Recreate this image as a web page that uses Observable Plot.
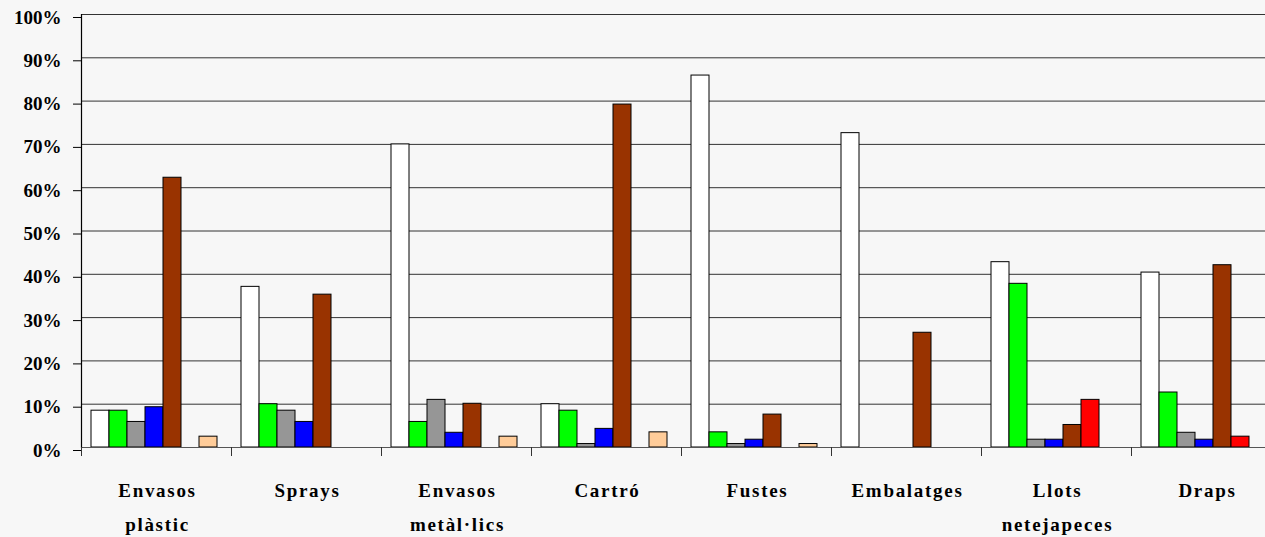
<!DOCTYPE html>
<html>
<head>
<meta charset="utf-8">
<script src="https://cdn.jsdelivr.net/npm/d3@7"></script>
<script src="https://cdn.jsdelivr.net/npm/@observablehq/plot@0.6"></script>
<style>
  html, body { margin: 0; padding: 0; background: #f7f7f7; overflow: hidden; }
  #chart svg { max-width: none !important; height: 537px !important; }
  #chart svg text { font-weight: bold; }
  #chart svg g[aria-label="text"] text { letter-spacing: 1.7px; }
</style>
</head>
<body>
<div id="chart"></div>
<script>
const categories = ["Envasos plàstic", "Sprays", "Envasos metàl·lics", "Cartró", "Fustes", "Embalatges", "Llots netejapeces", "Draps"];
const categoryLabels = ["Envasos\nplàstic", "Sprays", "Envasos\nmetàl·lics", "Cartró", "Fustes", "Embalatges", "Llots\nnetejapeces", "Draps"];
const seriesNames = ["Sèrie 1", "Sèrie 2", "Sèrie 3", "Sèrie 4", "Sèrie 5", "Sèrie 6", "Sèrie 7"];
const seriesColors = ["#ffffff", "#00ff00", "#969696", "#0000ff", "#993300", "#ff0000", "#ffcc99"];
const serie1 = [8.5, 37.1, 70.0, 10.0, 85.9, 72.6, 42.8, 40.4];
const serie2 = [8.5, 10.0, 5.9, 8.5, 3.5, 0, 37.8, 12.7];
const serie3 = [5.9, 8.5, 11.0, 0.8, 0.8, 0, 1.8, 3.4];
const serie4 = [9.3, 5.9, 3.4, 4.3, 1.8, 0, 1.8, 1.8];
const serie5 = [62.3, 35.3, 10.1, 79.2, 7.6, 26.5, 5.2, 42.1];
const serie6 = [0, 0, 0, 0, 0, 0, 11.0, 2.5];
const serie7 = [2.5, 0, 2.5, 3.5, 0.8, 0, 0, 0];
const yTicks = [0, 10, 20, 30, 40, 50, 60, 70, 80, 90, 100];

const allSeries = [serie1, serie2, serie3, serie4, serie5, serie6, serie7];
const rows = [];
categories.forEach((c, i) => {
  allSeries.forEach((s, j) => {
    rows.push({category: c, series: seriesNames[j], value: s[i]});
  });
});
const labelOf = new Map(categories.map((c, i) => [c, categoryLabels[i]]));

const chart = Plot.plot({
  width: 1290,
  height: 537,
  marginLeft: 81,
  marginRight: 9,
  marginTop: 14,
  marginBottom: 90,
  style: {background: "#f7f7f7", fontFamily: "'Liberation Serif', 'Times New Roman', serif", fontSize: "19px", color: "#000"},
  fx: {domain: categories, padding: 0, axis: null},
  x: {domain: seriesNames, paddingInner: 0, paddingOuter: 0.5, align: 0.4, axis: null},
  y: {domain: [0, 100], axis: null},
  color: {domain: seriesNames, range: seriesColors},
  marks: [
    Plot.ruleY(yTicks.filter(d => d > 0), {stroke: "#333", strokeWidth: 1}),
    Plot.barY(rows.filter(d => d.value > 0), {fx: "category", x: "series", y: "value", fill: "series", stroke: "#000", strokeWidth: 1}),
    Plot.ruleY([0], {stroke: "#555", strokeWidth: 1.2}),
    Plot.frame({anchor: "left", facetAnchor: "left", stroke: "#000", strokeWidth: 1.2}),
    Plot.frame({anchor: "left", stroke: "#333", insetTop: 433, insetBottom: -8}),
    Plot.axisY({ticks: yTicks, tickFormat: d => d + "%", tickSize: 8, tickPadding: 12, fontSize: 19, fontWeight: "bold", dy: 3, label: null}),
    Plot.text(categories, {fx: d => d, text: d => labelOf.get(d), frameAnchor: "bottom", lineAnchor: "top", dy: 25, dx: 1, lineHeight: 1.8, fontSize: 19, fontWeight: "bold", fill: "#000"})
  ]
});
document.getElementById("chart").appendChild(chart);
</script>
</body>
</html>
